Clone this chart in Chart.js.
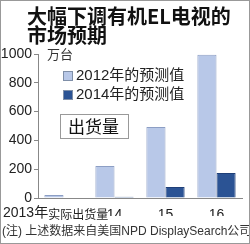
<!DOCTYPE html>
<html>
<head>
<meta charset="utf-8">
<script src="https://cdn.jsdelivr.net/npm/chart.js@4.4.0/dist/chart.umd.min.js"></script>
<style>
  html, body { margin: 0; padding: 0; background: #fff; }
  #wrap { width: 250px; height: 244px; }
</style>
</head>
<body>
<div id="wrap"><canvas id="shipChart" width="250" height="244"></canvas></div>
<script>
// data (万台)
var categories = ['2013年实际出货量', '14', '15', '16'];
var forecast2012 = [20, 222, 493, 995];
var forecast2014 = [0, 8, 76, 174];
var seriesNames = ['2012年的预测值', '2014年的预测值'];
var titleLines = ['大幅下调有机EL电视的', '市场预期'];
var unitText = '万台';
var boxText = '出货量';
var noteText = '(注) 上述数据来自美国NPD DisplaySearch公司';

var cjk = "'Liberation Sans', 'Noto Sans CJK SC', sans-serif";
Chart.defaults.font.family = cjk;

var lightBlue = '#b8c8e8', darkBlue = '#2b5394';

// extra text: title, unit, legend, label box, footnote, frame
var extras = {
    id: 'extras',
    beforeDraw: function (chart) {
        var c = chart.ctx;
        c.save();
        c.fillStyle = '#fff';
        c.fillRect(0, 0, chart.width, chart.height);
        c.restore();
    },
    afterDraw: function (chart) {
        var c = chart.ctx;
        var area = chart.chartArea;
        c.save();

        // title
        c.fillStyle = '#111';
        c.textBaseline = 'middle';
        c.textAlign = 'left';
        c.font = "bold 20px 'Noto Sans CJK SC', sans-serif";
        c.fillText(titleLines[0], 27, 16);
        c.fillText(titleLines[1], 27, 35);

        // unit
        c.fillStyle = '#333';
        c.font = "13px 'Noto Sans CJK SC', sans-serif";
        c.fillText(unitText, area.left + 9, area.top);

        // legend
        var sets = chart.data.datasets;
        c.font = "15px " + cjk;
        for (var i = 0; i < sets.length; i++) {
            var ly = 76 + i * 19;
            c.fillStyle = sets[i].backgroundColor;
            c.fillRect(63, ly - 5, 10, 10);
            c.strokeStyle = '#7f8fa8';
            c.lineWidth = 1;
            c.strokeRect(63.5, ly - 4.5, 9, 9);
            c.fillStyle = '#222';
            c.fillText(sets[i].label, 76, ly);
        }

        // 出货量 box
        c.strokeStyle = '#999';
        c.strokeRect(60.5, 114.5, 68, 24);
        c.fillStyle = '#111';
        c.font = "17px 'Noto Sans CJK SC', sans-serif";
        c.fillText(boxText, 68, 127);

        // first category label, mixed sizes
        var lblY = area.bottom + 15;
        c.fillStyle = '#222';
        c.font = "14px " + cjk;
        var part1 = categories[0].slice(0, 5);
        var part2 = categories[0].slice(5);
        c.fillText(part1, 3, lblY);
        var w1 = c.measureText(part1).width;
        c.font = "12px 'Noto Sans CJK SC', sans-serif";
        c.fillText(part2, 3 + w1, lblY + 1);

        // footnote
        c.fillStyle = '#333';
        c.font = "12px " + cjk;
        c.fillText(noteText, 2, 232);

        // frame
        c.strokeStyle = '#999';
        c.strokeRect(0.5, 0.5, chart.width - 1, chart.height - 1);
        c.restore();
    }
};

var ctx = document.getElementById('shipChart').getContext('2d');
var shipChart = new Chart(ctx, {
    type: 'bar',
    data: {
        labels: categories,
        datasets: [
            {
                label: seriesNames[0],
                data: forecast2012,
                backgroundColor: lightBlue,
                borderColor: '#8c9ec4',
                borderWidth: 1,
                categoryPercentage: 0.75,
                barPercentage: 1.0
            },
            {
                label: seriesNames[1],
                data: forecast2014,
                backgroundColor: darkBlue,
                borderColor: '#1f3f78',
                borderWidth: 1,
                categoryPercentage: 0.75,
                barPercentage: 1.0
            }
        ]
    },
    options: {
        responsive: false,
        animation: false,
        layout: { padding: { top: 54, right: 8, bottom: 28, left: 0 } },
        plugins: {
            legend: { display: false },
            title: { display: false },
            tooltip: { enabled: false }
        },
        scales: {
            x: {
                grid: { display: false },
                border: { display: true, color: '#888' },
                ticks: {
                    color: '#222',
                    font: { size: 14 },
                    autoSkip: false,
                    maxRotation: 0,
                    padding: 1,
                    callback: function (v, i) { return i === 0 ? '' : categories[i]; }
                },
                afterFit: function (s) { s.height = 18; }
            },
            y: {
                min: 0,
                max: 1000,
                grid: { display: true, drawOnChartArea: false, drawTicks: true, tickLength: 4, color: '#888' },
                border: { display: true, color: '#888' },
                ticks: {
                    stepSize: 200,
                    color: '#222',
                    font: { size: 14 },
                    padding: 2,
                    callback: function (v) { return String(v); }
                },
                afterFit: function (s) { s.width = 38; }
            }
        }
    },
    plugins: [extras]
});
</script>
</body>
</html>
